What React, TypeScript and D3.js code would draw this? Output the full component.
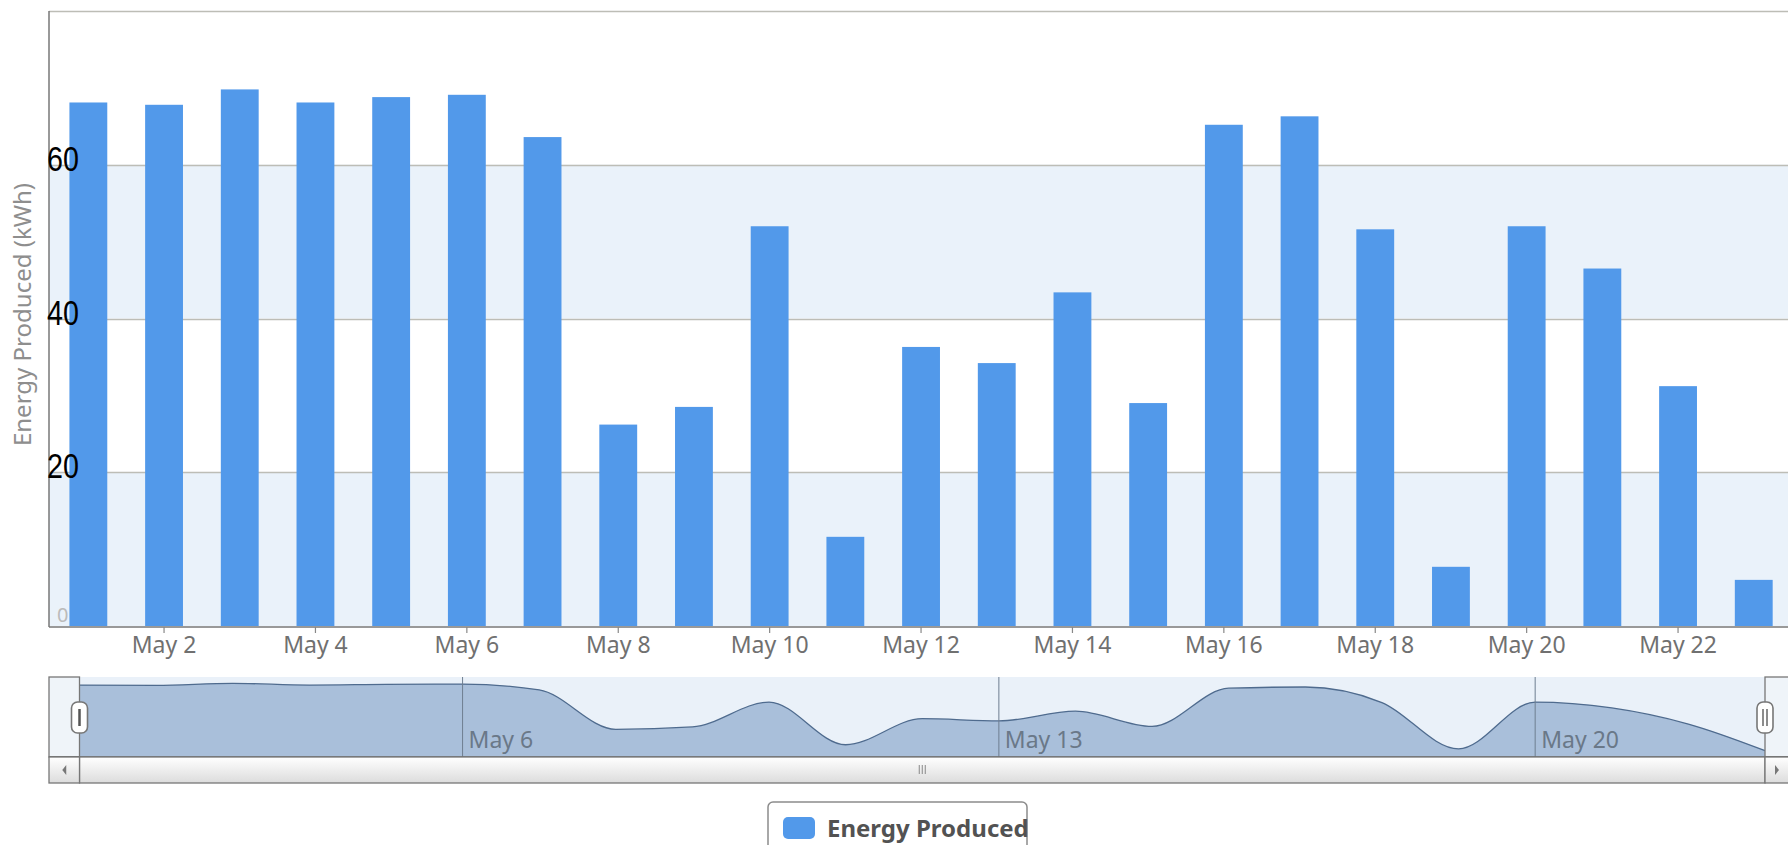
import React from "react";
import * as d3 from "d3";

const dayNumbers = [1,2,3,4,5,6,7,8,9,10,11,12,13,14,15,16,17,18,19,20,21,22,23];
const energy = [68.1, 67.8, 69.8, 68.1, 68.8, 69.1, 63.6, 26.2, 28.5, 52.0, 11.6, 36.3, 34.2, 43.4, 29.0, 65.2, 66.3, 51.6, 7.7, 52.0, 46.5, 31.2, 6.0];
const xTickDays = [2,4,6,8,10,12,14,16,18,20,22];
const navTickDays = [6,13,20];
const yGridValues = [20,40,60,80];
const yLabelValues = [20,40,60];
const bandRanges = [[0,20],[40,60]];
const seriesName = "Energy Produced";
const yTitle = "Energy Produced (kWh)";

const W = 1788, H = 845;
const FONT = "'Noto Sans', 'DejaVu Sans', sans-serif";

export default function App() {
  const plotLeft = 49, plotRight = 1788, plotTop = 11, plotBottom = 626;
  const x = d3.scaleBand<number>().domain(dayNumbers).range([50.5, 1791.6]).paddingInner(0.5).paddingOuter(0.25);
  const y = d3.scaleLinear().domain([0, 80]).range([plotBottom, plotTop]);

  const navLeft = 79.5, navRight = 1765, navTop = 677, navBottom = 757, scrollBottom = 783;
  const xn = d3.scaleLinear().domain([1, 23]).range([navLeft, navRight]);
  const yn = d3.scaleLinear().domain([0, 72]).range([navBottom, navTop + 4]);
  const pts = dayNumbers.map((d, i) => [d, energy[i]] as [number, number]);
  const area = d3.area<[number, number]>().x(d => xn(d[0])).y0(navBottom).y1(d => yn(d[1])).curve(d3.curveMonotoneX);
  const line = d3.line<[number, number]>().x(d => xn(d[0])).y(d => yn(d[1])).curve(d3.curveMonotoneX);

  const barColor = "#5299EA";
  const bandColor = "#EAF2FA";

  const handle = (cx: number, two: boolean) => (
    <g>
      <rect x={cx - 8} y={702} width={16} height={31} rx={6} fill="#fff" stroke="#777" strokeWidth={1.6} />
      {two ? (
        <>
          <line x1={cx - 2} x2={cx - 2} y1={709} y2={726} stroke="#666" strokeWidth={1.5} />
          <line x1={cx + 2} x2={cx + 2} y1={709} y2={726} stroke="#666" strokeWidth={1.5} />
        </>
      ) : (
        <line x1={cx} x2={cx} y1={709} y2={726} stroke="#555" strokeWidth={2.5} />
      )}
    </g>
  );

  return (
    <svg width={W} height={H} style={{ position: "absolute", left: 0, top: 0, background: "#fff" }}>
      <defs>
        <linearGradient id="sb" x1="0" y1="0" x2="0" y2="1">
          <stop offset="0" stopColor="#ffffff" />
          <stop offset="1" stopColor="#dcdcdc" />
        </linearGradient>
      </defs>
      {/* plot background bands */}
      <rect x={plotLeft} y={plotTop} width={plotRight - plotLeft} height={plotBottom - plotTop} fill="#fff" />
      {bandRanges.map((b, i) => (
        <rect key={i} x={plotLeft} y={y(b[1])} width={plotRight - plotLeft} height={y(b[0]) - y(b[1])} fill={bandColor} />
      ))}
      {yGridValues.map(v => (
        <line key={v} x1={plotLeft} x2={plotRight} y1={Math.round(y(v)) + 0.5} y2={Math.round(y(v)) + 0.5} stroke="#BDBDB6" strokeWidth={1.3} />
      ))}
      {/* bars */}
      {dayNumbers.map((d, i) => (
        <rect key={d} x={x(d)} y={y(energy[i])} width={x.bandwidth()} height={plotBottom - y(energy[i])} fill={barColor} />
      ))}
      {/* axes */}
      <line x1={plotLeft} x2={plotLeft} y1={plotTop} y2={plotBottom + 1} stroke="#777" strokeWidth={1.5} />
      <line x1={plotLeft} x2={plotRight} y1={plotBottom + 1} y2={plotBottom + 1} stroke="#777" strokeWidth={1.5} />
      {xTickDays.map(d => {
        const cx = (x(d) as number) + x.bandwidth() / 2;
        return (
          <g key={d}>
            <line x1={cx} x2={cx} y1={plotBottom + 1} y2={plotBottom + 7} stroke="#888" strokeWidth={1.2} />
            <text x={cx} y={653} textAnchor="middle" fontFamily={FONT} fontSize={23} fill="#707070">{`May ${d}`}</text>
          </g>
        );
      })}
      {/* y labels */}
      <text x={57} y={622} fontFamily={FONT} fontSize={20} fill="#bbb">0</text>
      {yLabelValues.map(v => (
        <text key={v} transform={`translate(47,${y(v) + 6}) scale(0.82,1)`} fontFamily="'Liberation Sans', Arial, sans-serif" fontSize={35} fill="#000">{v}</text>
      ))}
      <text transform={`translate(31,${(plotTop + plotBottom) / 2 - 4}) rotate(-90)`} textAnchor="middle" fontFamily={FONT} fontSize={24} fill="#8e8e8e">{yTitle}</text>

      {/* navigator */}
      <rect x={navLeft} y={navTop} width={navRight - navLeft} height={navBottom - navTop} fill="#EAF1F9" />
      <path d={area(pts) || ""} fill="#A9BFDA" />
      <path d={line(pts) || ""} fill="none" stroke="#4F6B8E" strokeWidth={1.3} />
      {navTickDays.map(d => (
        <g key={d}>
          <line x1={xn(d)} x2={xn(d)} y1={navTop} y2={navBottom} stroke="#6E7E90" strokeWidth={1} />
          <text x={xn(d) + 6} y={748} fontFamily={FONT} fontSize={23} fill="#6A7888">{`May ${d}`}</text>
        </g>
      ))}
      {/* masks */}
      <rect x={plotLeft} y={navTop} width={navLeft - plotLeft} height={navBottom - navTop} fill="#EFF4F9" stroke="#777" strokeWidth={1.3} />
      <rect x={navRight} y={navTop} width={W - navRight + 5} height={navBottom - navTop} fill="#EFF4F9" stroke="#777" strokeWidth={1.3} />
      <line x1={plotLeft} x2={W} y1={navBottom} y2={navBottom} stroke="#666" strokeWidth={1.5} />
      {/* scrollbar */}
      <rect x={navLeft} y={navBottom} width={navRight - navLeft} height={scrollBottom - navBottom} fill="url(#sb)" stroke="#777" strokeWidth={1.3} />
      <rect x={plotLeft} y={navBottom} width={navLeft - plotLeft} height={scrollBottom - navBottom} fill="url(#sb)" stroke="#777" strokeWidth={1.3} />
      <rect x={navRight} y={navBottom} width={W - navRight + 5} height={scrollBottom - navBottom} fill="url(#sb)" stroke="#777" strokeWidth={1.3} />
      <path d={`M${(plotLeft + navLeft) / 2 + 2},${navBottom + 8} L${(plotLeft + navLeft) / 2 - 2},${navBottom + 13} L${(plotLeft + navLeft) / 2 + 2},${navBottom + 18} Z`} fill="#777" />
      <path d={`M${navRight + 10},${navBottom + 8} L${navRight + 14},${navBottom + 13} L${navRight + 10},${navBottom + 18} Z`} fill="#777" />
      {[-3, 0, 3].map(o => (
        <line key={o} x1={(navLeft + navRight) / 2 + o} x2={(navLeft + navRight) / 2 + o} y1={navBottom + 8} y2={navBottom + 17} stroke="#888" strokeWidth={1} />
      ))}
      {handle(navLeft, false)}
      {handle(navRight, true)}

      {/* legend */}
      <rect x={768} y={802} width={259} height={60} rx={5} fill="#fff" stroke="#8c8c8c" strokeWidth={1.5} />
      <rect x={783} y={817} width={32} height={22} rx={5} fill={barColor} />
      <text x={827} y={837} fontFamily={FONT} fontWeight="bold" fontSize={24} fill="#525252">{seriesName}</text>
    </svg>
  );
}
